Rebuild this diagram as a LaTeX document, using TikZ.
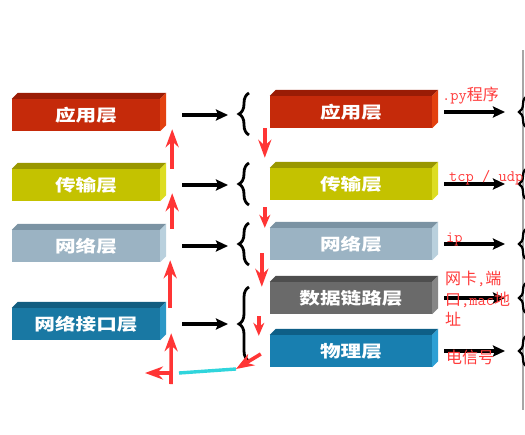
\documentclass[tikz,border=0pt]{standalone}
\usepackage{fontspec}
\newfontfamily\cjk{Noto Sans CJK SC}
\newfontfamily\cjkbar[FakeStretch=1.25]{Noto Sans CJK SC}
\usetikzlibrary{arrows.meta, decorations.pathreplacing}

\definecolor{appF}{HTML}{C52A0A}\definecolor{appT}{HTML}{9A1C05}\definecolor{appS}{HTML}{E3410F}
\definecolor{traF}{HTML}{C4C200}\definecolor{traT}{HTML}{999700}\definecolor{traS}{HTML}{DDDD22}
\definecolor{netF}{HTML}{9BB3C3}\definecolor{netT}{HTML}{7B93A3}\definecolor{netS}{HTML}{B9D0DD}
\definecolor{nilF}{HTML}{1978A3}\definecolor{nilT}{HTML}{125D80}\definecolor{nilS}{HTML}{2B97C6}
\definecolor{dlF}{HTML}{6A6A6A}\definecolor{dlT}{HTML}{4E4E4E}\definecolor{dlS}{HTML}{868686}
\definecolor{phF}{HTML}{187FB0}\definecolor{phT}{HTML}{0E5F87}\definecolor{phS}{HTML}{2C9FD4}
\definecolor{redlbl}{HTML}{FF3B3B}
\definecolor{hintred}{HTML}{FF3535}
\definecolor{cyanln}{HTML}{30D5DC}

% top and side faces of a 3D bar
\newcommand\barfaces[3]{%
  \fill[#2] (#1.north west) -- ++(6pt,6pt) -- ([shift={(6pt,6pt)}]#1.north east) -- (#1.north east) -- cycle;
  \fill[#3] (#1.north east) -- ++(6pt,6pt) -- ([shift={(6pt,6pt)}]#1.south east) -- (#1.south east) -- cycle;}

\begin{document}
\begin{tikzpicture}[x=1pt, y=-1pt, >=Stealth,
      bar/.style={minimum height=32pt, inner sep=0pt, text=white,
                  font=\cjkbar\bfseries\fontsize{16.5}{18}\selectfont},
      barL/.style={bar, minimum width=148pt},
      barR/.style={bar, minimum width=162pt},
      lbl/.style={anchor=west, inner sep=0pt, text=redlbl, align=left,
                  font=\cjk\fontsize{16}{20.5}\selectfont},
      mono/.style={font=\ttfamily\fontsize{16}{20.5}\selectfont},
      blk/.style={-{Stealth[length=12pt, width=11pt, inset=2pt]}, line width=3.4pt},
      brc/.style={decorate, decoration={brace, amplitude=10pt}, line width=2.8pt},
      hint/.style={-{Stealth[length=18pt, width=13pt]}, line width=3.6pt, hintred},
      hintS/.style={hint, -{Stealth[length=13pt, width=11pt]}},
      cyanline/.style={line width=3.4pt, cyanln}]

    \fill[white] (0,0) rectangle (525,434);
    \useasboundingbox (0,0) rectangle (525,434);

    % TCP/IP layers (left)
    \node[barL, fill=appF] (appL) at (86,115) {应用层};
    \node[barL, fill=traF] (traL) at (86,185) {传输层};
    \node[barL, fill=netF] (netL) at (86,246) {网络层};
    \node[barL, fill=nilF] (nilL) at (86,324) {网络接口层};
    \barfaces{appL}{appT}{appS}
    \barfaces{traL}{traT}{traS}
    \barfaces{netL}{netT}{netS}
    \barfaces{nilL}{nilT}{nilS}

    % OSI-like layers (right)
    \node[barR, fill=appF] (appR) at (351,112) {应用层};
    \node[barR, fill=traF] (traR) at (351,184) {传输层};
    \node[barR, fill=netF] (netR) at (351,244) {网络层};
    \node[barR, fill=dlF]  (dlR)  at (351,298) {数据链路层};
    \node[barR, fill=phF]  (phR)  at (351,351) {物理层};
    \barfaces{appR}{appT}{appS}
    \barfaces{traR}{traT}{traS}
    \barfaces{netR}{netT}{netS}
    \barfaces{dlR}{dlT}{dlS}
    \barfaces{phR}{phT}{phS}

    % braces between the columns
    \coordinate (b1) at (238,114);
    \coordinate (b2) at (238,184);
    \coordinate (b3) at (238,244);
    \coordinate (b4) at (238,324);
    \draw[brc] ([shift={(11pt,-21pt)}]b1) -- ([shift={(11pt,21pt)}]b1);
    \draw[brc] ([shift={(11pt,-21pt)}]b2) -- ([shift={(11pt,21pt)}]b2);
    \draw[brc] ([shift={(11pt,-21pt)}]b3) -- ([shift={(11pt,21pt)}]b3);
    \draw[brc] ([shift={(11pt,-37pt)}]b4) -- ([shift={(11pt,37pt)}]b4);

    \draw[blk] ([xshift=22pt]appL.east) -- ([xshift=-10pt]b1 |- appL.east);
    \draw[blk] ([xshift=22pt]traL.east) -- ([xshift=-10pt]b2 |- traL.east);
    \draw[blk] ([xshift=22pt]netL.east) -- ([xshift=-10pt]b3 |- netL.east);
    \draw[blk] ([xshift=22pt]nilL.east) -- ([xshift=-10pt]b4 |- nilL.east);

    % braces at the right edge
    \coordinate (r1) at (518,112);
    \coordinate (r2) at (518,184);
    \coordinate (r3) at (518,244);
    \coordinate (r4) at (518,298);
    \coordinate (r5) at (518,351);
    \draw[gray!70, line width=1.2pt] (523,50) -- (523,410);
    \foreach \r in {r1,r2,r3,r4,r5}
      \draw[decorate, decoration={brace, amplitude=8pt}, line width=2.2pt]
        ([shift={(9pt,-16pt)}]\r) -- ([shift={(9pt,16pt)}]\r);

    \draw[blk] ([xshift=12pt]appR.east) -- ([xshift=-13pt]r1 |- appR.east);
    \draw[blk] ([xshift=12pt]traR.east) -- ([xshift=-13pt]r2 |- traR.east);
    \draw[blk] ([xshift=12pt]netR.east) -- ([xshift=-13pt]r3 |- netR.east);
    \draw[blk] ([xshift=12pt]dlR.east) -- ([xshift=-13pt]r4 |- dlR.east);
    \draw[blk] ([xshift=12pt]phR.east) -- ([xshift=-13pt]r5 |- phR.east);

    % red hints: up on the left, down on the right
    \draw[hint] ([xshift=12pt]traL.north east) -- ([xshift=12pt, yshift=2pt]appL.south east);
    \draw[hint] ([xshift=12pt, yshift=1pt]netL.north east) -- ([xshift=12pt, yshift=8pt]traL.south east);
    \draw[hint] ([xshift=10pt]nilL.north east) -- ([xshift=10pt, yshift=2pt]netL.south east);

    \coordinate (turnL) at (171,373);
    \coordinate (endL)  at (145,373);
    \coordinate (turnR) at (236,369);
    \draw[hint] ([yshift=-11pt]turnL) -- ([xshift=11pt, yshift=7pt]nilL.south east);
    \draw[cyanline] (turnR) -- ([xshift=8pt]turnL);
    \draw[hint] (turnL) -- (endL);
    \draw[hint] ([xshift=-9pt, yshift=-3pt]phR.west) -- (turnR);

    \draw[hint] ([xshift=-5pt]appR.south west) -- ([xshift=-5pt, yshift=10pt]traR.north west);
    \draw[hintS] ([xshift=-5pt, yshift=-7pt]traR.south west) -- ([xshift=-5pt]netR.north west);
    \draw[hint] ([xshift=-8pt, yshift=7pt]netR.south west) -- ([xshift=-8pt, yshift=-5pt]dlR.north west);
    \draw[hintS] ([xshift=-11pt, yshift=-2pt]dlR.south west) -- ([xshift=-11pt, yshift=-1pt]phR.north west);

    % red notes
    \node[lbl] (pyT)  at (442,96)  {{\ttfamily .py}程序};
    \node[lbl, mono] (tcpT) at (449,178) {tcp / udp};
    \node[lbl, mono] (ipT)  at (446,239) {ip};
    \node[lbl, anchor=north west] (nicT) at (445,271) {网卡{\ttfamily,}端\\口{\ttfamily,mac}地\\址};
    \node[lbl] (sigT) at (446,357) {电信号};

\end{tikzpicture}
\end{document}
